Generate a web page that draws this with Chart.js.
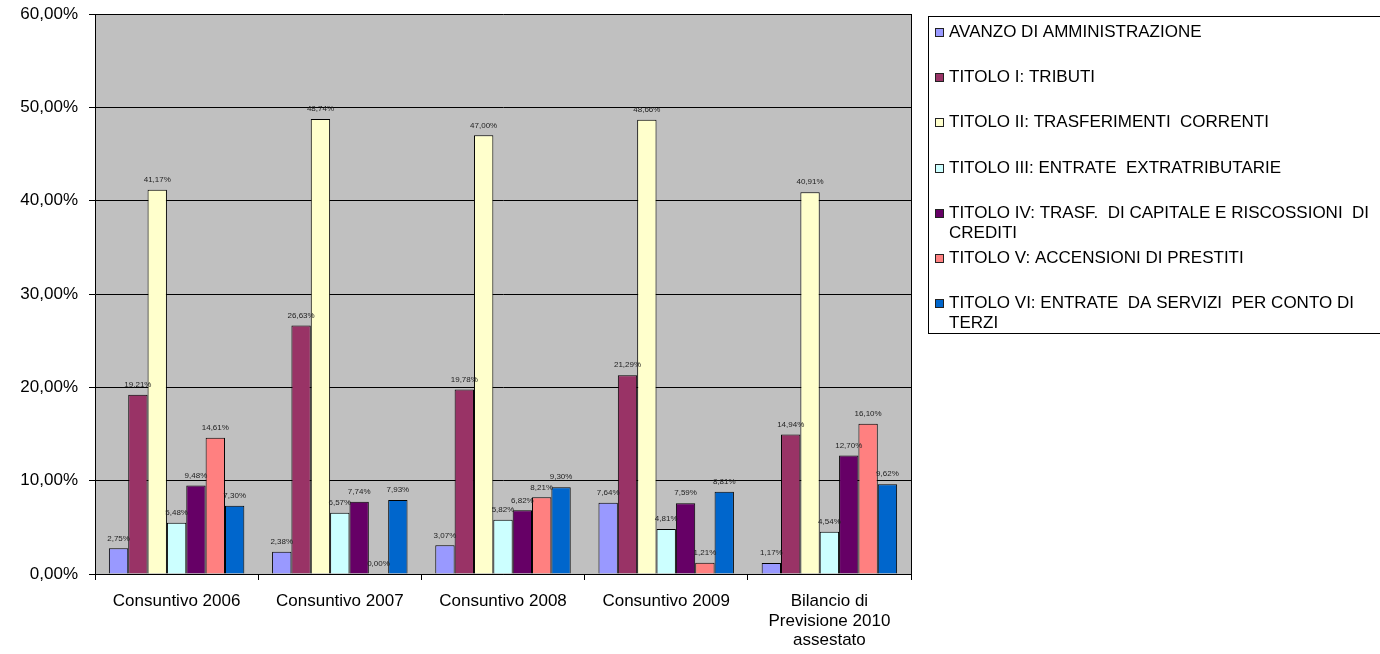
<!DOCTYPE html>
<html lang="it">
<head>
<meta charset="utf-8">
<title>Entrate per titolo</title>
<script src="https://cdn.jsdelivr.net/npm/chart.js@4.4.1/dist/chart.umd.min.js"></script>
<style>
  html, body { margin: 0; padding: 0; background: #fff; }
  #wrap { position: relative; width: 1380px; height: 654px; }
</style>
</head>
<body>
<div id="wrap"><canvas id="c"></canvas></div>
<script>
"use strict";

// categorie sull'asse x
const CATEGORIE = [
  "Consuntivo 2006",
  "Consuntivo 2007",
  "Consuntivo 2008",
  "Consuntivo 2009",
  ["Bilancio di", "Previsione 2010", "assestato"],
];

const SERIE = [
  "AVANZO DI AMMINISTRAZIONE",
  "TITOLO I: TRIBUTI",
  "TITOLO II: TRASFERIMENTI  CORRENTI",
  "TITOLO III: ENTRATE  EXTRATRIBUTARIE",
  "TITOLO IV: TRASF.  DI CAPITALE E RISCOSSIONI  DI CREDITI",
  "TITOLO V: ACCENSIONI DI PRESTITI",
  "TITOLO VI: ENTRATE  DA SERVIZI  PER CONTO DI TERZI",
];

// valori in percentuale, uno per categoria
const AVANZO = [2.75, 2.38, 3.07, 7.64, 1.17];
const TITOLO_I = [19.21, 26.63, 19.78, 21.29, 14.94];
const TITOLO_II = [41.17, 48.74, 47.0, 48.66, 40.91];
const TITOLO_III = [5.48, 6.57, 5.82, 4.81, 4.54];
const TITOLO_IV = [9.48, 7.74, 6.82, 7.59, 12.7];
const TITOLO_V = [14.61, 0.0, 8.21, 1.21, 16.1];
const TITOLO_VI = [7.3, 7.93, 9.3, 8.81, 9.62];

const Y_TICKS = [0, 10, 20, 30, 40, 50, 60];

const COLORI = ["#9999ff", "#993366", "#ffffcc", "#ccffff", "#660066", "#ff8080", "#0066cc"];

const FONT = "'Liberation Sans', Arial, sans-serif";

function pct(v) {
  return v.toFixed(2).replace(".", ",") + "%";
}

// sfondo grigio dell'area del grafico + bordo destro
const plotArea = {
  id: "plotArea",
  beforeDraw(chart) {
    const a = chart.chartArea;
    const ctx = chart.ctx;
    ctx.save();
    ctx.fillStyle = "#c0c0c0";
    ctx.fillRect(a.left, a.top, a.right - a.left, a.bottom - a.top);
    ctx.restore();
  },
  beforeDatasetsDraw(chart) {
    const a = chart.chartArea;
    const ctx = chart.ctx;
    ctx.save();
    ctx.strokeStyle = "#000";
    ctx.lineWidth = 1;
    ctx.beginPath();
    ctx.moveTo(Math.round(a.right) + 0.5, a.top);
    ctx.lineTo(Math.round(a.right) + 0.5, a.bottom);
    ctx.stroke();
    ctx.restore();
  },
};

// etichette sopra le barre
const barLabels = {
  id: "barLabels",
  afterDatasetsDraw(chart) {
    const ctx = chart.ctx;
    ctx.save();
    ctx.font = "8px " + FONT;
    ctx.fillStyle = "#222";
    ctx.textAlign = "center";
    ctx.textBaseline = "middle";
    chart.data.datasets.forEach((ds, i) => {
      const meta = chart.getDatasetMeta(i);
      meta.data.forEach((bar, j) => {
        ctx.fillText(pct(ds.data[j]), bar.x, bar.y - 10);
      });
    });
    ctx.restore();
  },
};

// legenda a destra, con riquadro e testo a capo
const sideLegend = {
  id: "sideLegend",
  afterDraw(chart) {
    const ctx = chart.ctx;
    const left = 928.5;
    const top = 16.5;
    const bottom = 333.5;
    const textX = 949;
    const maxW = 428;
    const step = 45.2;
    const lineH = 20;
    ctx.save();
    ctx.strokeStyle = "#000";
    ctx.lineWidth = 1;
    ctx.strokeRect(left, top, chart.width + 10 - left, bottom - top);
    ctx.font = "17px " + FONT;
    ctx.textBaseline = "middle";
    chart.data.datasets.forEach((ds, i) => {
      const y = Math.round(32 + i * step);
      ctx.fillStyle = ds.backgroundColor;
      ctx.fillRect(935, y - 4, 9, 9);
      ctx.strokeStyle = "#222";
      ctx.strokeRect(935.5, y - 3.5, 8, 8);
      ctx.fillStyle = "#000";
      const words = ds.label.split(" ");
      let line = "";
      let ly = y;
      words.forEach((w) => {
        const test = line ? line + " " + w : w;
        if (line && ctx.measureText(test).width > maxW) {
          ctx.fillText(line, textX, ly);
          line = w;
          ly += lineH;
        } else {
          line = test;
        }
      });
      ctx.fillText(line, textX, ly);
    });
    ctx.restore();
  },
};

const valori = [AVANZO, TITOLO_I, TITOLO_II, TITOLO_III, TITOLO_IV, TITOLO_V, TITOLO_VI];

new Chart(document.getElementById("c"), {
  type: "bar",
  data: {
    labels: CATEGORIE,
    datasets: SERIE.map((nome, i) => ({
      label: nome,
      data: valori[i],
      backgroundColor: COLORI[i],
      borderColor: "#000",
      borderWidth: 1,
      categoryPercentage: 0.83,
      barPercentage: 1,
    })),
  },
  options: {
    responsive: true,
    maintainAspectRatio: false,
    animation: false,
    layout: { padding: { top: 14, right: 469, left: 0, bottom: 0 } },
    plugins: {
      legend: { display: false },
      tooltip: { enabled: false },
    },
    scales: {
      x: {
        offset: true,
        border: { display: true, color: "#000" },
        grid: {
          offset: true,
          drawOnChartArea: false,
          drawTicks: true,
          tickLength: 6,
          color: "#000",
        },
        ticks: {
          color: "#000",
          font: { family: FONT, size: 17, lineHeight: 1.13 },
          padding: 12,
          maxRotation: 0,
          autoSkip: false,
        },
        afterFit(scale) {
          scale.height = 80;
          scale.paddingLeft = 0;
          scale.paddingRight = 0;
        },
      },
      y: {
        min: 0,
        max: 60,
        border: { display: true, color: "#000" },
        grid: {
          color: "#000",
          drawTicks: true,
          tickLength: 6,
          tickColor: "#000",
        },
        afterBuildTicks(scale) {
          scale.ticks = Y_TICKS.map((v) => ({ value: v }));
        },
        ticks: {
          color: "#000",
          font: { family: FONT, size: 17 },
          padding: 11,
          callback: (v) => pct(v),
        },
        afterFit(scale) {
          scale.width = 95;
          scale.paddingTop = 0;
          scale.paddingBottom = 0;
        },
      },
    },
  },
  plugins: [plotArea, barLabels, sideLegend],
});
</script>
</body>
</html>
